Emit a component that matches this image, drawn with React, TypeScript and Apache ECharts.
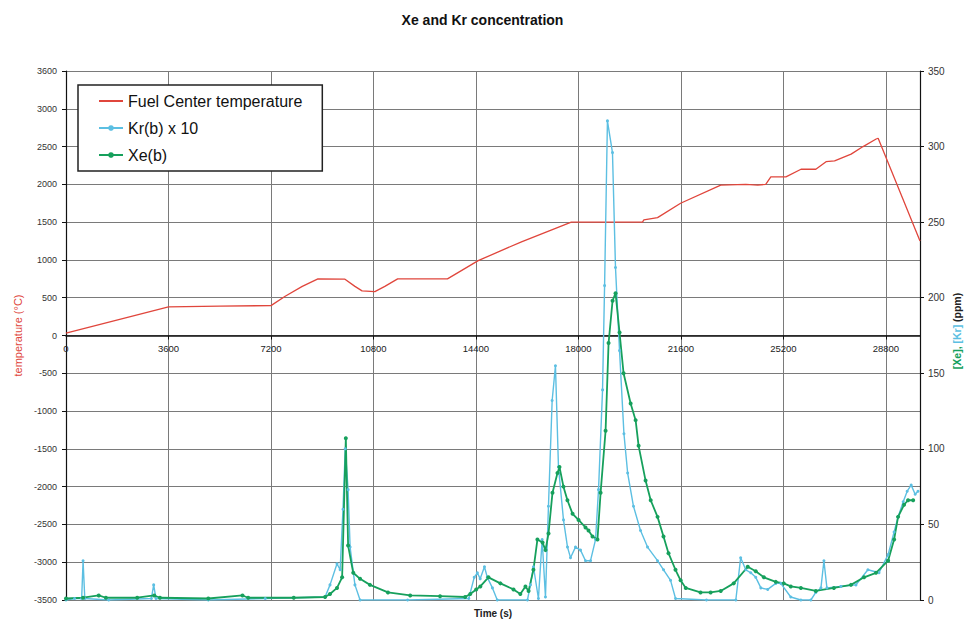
import React, { useEffect, useRef } from "react";
import * as echarts from "echarts";

const TITLE = "Xe and Kr concentration";
const X_NAME = "Time (s)";
const LEFT_NAME = "temperature (°C)";
const RIGHT_NAME = "{xe|[Xe],} {kr|[Kr]} {pp|(ppm)}";
const SERIES_NAMES = ["Fuel Center temperature", "Kr(b) x 10", "Xe(b)"];

const leftTickValues = [-3500, -3000, -2500, -2000, -1500, -1000, -500, 0, 500, 1000, 1500, 2000, 2500, 3000, 3500];
const leftTickLabels = ["-3500", "-3000", "-2500", "-2000", "-1500", "-1000", "-500", "0", "500", "1000", "1500", "2000", "2500", "3000", "3600"];

// Fuel center temperature [time s, °C]
const tempData: [number, number][] = [
  [0, 30], [3600, 380], [5400, 390], [7200, 395], [7700, 520], [8300, 650], [8850, 750],
  [9800, 745], [10150, 650], [10400, 590], [10850, 580], [11200, 650], [11650, 750],
  [13400, 750], [14480, 990], [14600, 1010], [16000, 1240], [17750, 1500], [20250, 1500],
  [20300, 1530], [20780, 1560], [21590, 1750], [23000, 1990], [23880, 2000], [24300, 1990],
  [24580, 2000], [24760, 2100], [25290, 2100], [25820, 2200], [26340, 2200], [26700, 2300],
  [27000, 2310], [27580, 2400], [28000, 2500], [28460, 2600], [28530, 2610], [30000, 1250],
];

// Kr(b) x 10 [time s, ppm]
const krData: [number, number][] = [
  [0, 0], [300, 1], [550, 1], [600, 26], [660, 1], [1500, 0], [3000, 1], [3080, 10], [3160, 1],
  [5000, 0], [7000, 1], [9100, 2], [9275, 10], [9520, 24], [9630, 20], [9730, 60], [9810, 100],
  [9910, 73], [9980, 35], [10150, 10], [10330, 0], [12000, 0], [14150, 1], [14340, 15],
  [14450, 18], [14550, 14], [14700, 22], [14800, 15], [14980, 8], [15150, 0], [16210, 0],
  [16315, 10], [16421, 22], [16596, 1], [16726, 40], [16843, 2], [16948, 62], [17078, 132],
  [17194, 155], [17300, 88], [17476, 53], [17617, 35], [17722, 28], [17898, 35], [18074, 33],
  [18250, 26], [18426, 26], [18602, 40], [18707, 73], [18848, 139], [18920, 208], [19020, 317],
  [19197, 296], [19303, 220], [19445, 165], [19600, 110], [19730, 84], [19935, 62], [20182, 46],
  [20428, 35], [20780, 26], [20991, 20], [21237, 13], [21413, 1], [22500, 0], [23530, 0],
  [23700, 28], [23880, 20], [24055, 18], [24230, 15], [24410, 8], [24650, 7], [24935, 11],
  [25110, 11], [25460, 2], [25815, 0], [26165, 0], [26340, 5], [26520, 8], [26625, 26],
  [26730, 8], [27220, 9], [27750, 10], [28170, 20], [28560, 18], [28880, 30], [29090, 45],
  [29230, 55], [29410, 65], [29550, 72], [29690, 76], [29830, 70], [29930, 72],
];

// Xe(b) [time s, ppm]
const xeData: [number, number][] = [
  [0, 1], [600, 1.5], [1150, 3], [1400, 1.5], [2500, 1.5], [3100, 3], [3300, 1.5], [5000, 1],
  [6200, 3], [6400, 1.5], [8000, 1.5], [9100, 2], [9275, 4], [9520, 8], [9700, 15], [9830, 107],
  [9910, 36], [10090, 18], [10330, 14], [10680, 10], [11310, 5], [12090, 3], [13140, 2.5],
  [14020, 2], [14200, 4], [14410, 7], [14555, 9], [14840, 15], [15260, 11], [15720, 7],
  [15960, 4], [16140, 9], [16250, 6], [16420, 20], [16560, 40], [16740, 38], [16845, 33],
  [16950, 44], [17090, 71], [17265, 84], [17335, 88], [17475, 75], [17615, 66], [17795, 57],
  [18005, 53], [18250, 48], [18355, 46], [18495, 42], [18670, 40], [18780, 71], [18955, 112],
  [19060, 170], [19200, 198], [19305, 203], [19445, 177], [19587, 150], [19835, 130],
  [20010, 119], [20115, 102], [20360, 79], [20540, 66], [20780, 55], [20990, 42], [21165, 31],
  [21410, 20], [21590, 13], [21770, 8], [22290, 5], [22645, 5], [23000, 6], [23455, 11],
  [23950, 22], [24230, 19], [24515, 15], [24935, 12], [25215, 11], [25460, 9], [25815, 8],
  [26340, 6], [26975, 8], [27575, 10], [28035, 15], [28455, 18], [28880, 26], [29090, 40],
  [29230, 55], [29440, 63], [29580, 66], [29760, 66],
];

const RED = "#e0463c";
const BLUE = "#5cbfe2";
const GREEN = "#16a05c";
const FONT = "'Liberation Sans', Arial, sans-serif";

const GRID_TOP = 71;
const GRID_BOTTOM = 23;
const CHART_H = 623;

export default function App() {
  const ref = useRef<HTMLDivElement>(null);
  useEffect(() => {
    if (!ref.current) return;
    const chart = echarts.init(ref.current, null, { renderer: "svg" });
    const plotH = CHART_H - GRID_TOP - GRID_BOTTOM;
    const leftMin = leftTickValues[0];
    const leftMax = leftTickValues[leftTickValues.length - 1];
    // distance from the grid bottom to the y=0 line
    const zeroOffset = (plotH * (0 - leftMin)) / (leftMax - leftMin);
    chart.setOption({
      animation: false,
      backgroundColor: "#fff",
      textStyle: { fontFamily: FONT },
      title: {
        text: TITLE,
        left: "center",
        top: 8,
        textStyle: { fontSize: 14, fontWeight: "bold", color: "#111", fontFamily: FONT },
      },
      legend: {
        data: [
          { name: SERIES_NAMES[0], itemStyle: { opacity: 0 } },
          { name: SERIES_NAMES[1] },
          { name: SERIES_NAMES[2] },
        ],
        orient: "vertical",
        left: 78,
        top: 85,
        backgroundColor: "#fff",
        borderColor: "#222",
        borderWidth: 1.5,
        borderRadius: 0,
        padding: [8, 20, 8, 20],
        itemGap: 11,
        itemWidth: 24,
        itemHeight: 7,
        textStyle: { fontSize: 16, color: "#111", fontFamily: FONT },
      },
      grid: {
        left: 66,
        right: 45,
        top: GRID_TOP,
        bottom: GRID_BOTTOM,
        containLabel: false,
        outerBoundsMode: "none",
      },
      xAxis: {
        type: "value",
        min: 0,
        max: 30000,
        interval: 3600,
        position: "bottom",
        offset: -zeroOffset,
        axisLine: { onZero: false, lineStyle: { color: "#111", width: 1.5 } },
        axisTick: { show: true, length: 4, lineStyle: { color: "#111" } },
        axisLabel: {
          fontSize: 9.5,
          color: "#222",
          margin: 8,
          showMaxLabel: false,
          formatter: (v: number) => String(v),
        },
        splitLine: { show: true, lineStyle: { color: "#7a7a7a", width: 1 } },
      },
      yAxis: [
        {
          type: "value",
          position: "left",
          min: leftMin,
          max: leftMax,
          interval: 500,
          name: LEFT_NAME,
          nameLocation: "middle",
          nameGap: 42,
          nameTextStyle: { color: RED, fontSize: 11, fontFamily: FONT },
          axisLine: { show: true, lineStyle: { color: "#111", width: 1.2 } },
          axisTick: { show: true, length: 4, lineStyle: { color: "#111" } },
          axisLabel: {
            fontSize: 9,
            color: "#333",
            margin: 9,
            formatter: (v: number) => {
              const i = leftTickValues.indexOf(v);
              return i >= 0 ? leftTickLabels[i] : "";
            },
          },
          splitLine: { show: true, lineStyle: { color: "#7a7a7a", width: 1.2 } },
        },
        {
          type: "value",
          position: "right",
          min: 0,
          max: 350,
          interval: 50,
          axisLine: { show: true, lineStyle: { color: "#111", width: 1.2 } },
          axisTick: { show: true, length: 4, lineStyle: { color: "#111" } },
          axisLabel: { fontSize: 10, color: "#333", margin: 8 },
          splitLine: { show: false },
        },
      ],
      graphic: [
        {
          type: "text",
          x: 493,
          y: 613,
          style: {
            text: X_NAME,
            fontSize: 10,
            fontWeight: "bold",
            fontFamily: FONT,
            fill: "#222",
            align: "center",
            verticalAlign: "middle",
          },
        },
        {
          type: "text",
          x: 957,
          y: 331,
          rotation: Math.PI / 2,
          style: {
            text: RIGHT_NAME,
            fontSize: 10.5,
            fontWeight: "bold",
            fontFamily: FONT,
            align: "center",
            verticalAlign: "middle",
            rich: {
              xe: { fill: GREEN, fontSize: 10.5, fontWeight: "bold", fontFamily: FONT },
              kr: { fill: BLUE, fontSize: 10.5, fontWeight: "bold", fontFamily: FONT },
              pp: { fill: "#222", fontSize: 10.5, fontWeight: "bold", fontFamily: FONT },
            },
          },
        },
      ],
      series: [
        {
          name: SERIES_NAMES[0],
          type: "line",
          yAxisIndex: 0,
          data: tempData,
          symbol: "none",
          lineStyle: { color: RED, width: 1.3 },
          itemStyle: { color: RED },
        },
        {
          name: SERIES_NAMES[1],
          type: "line",
          yAxisIndex: 1,
          data: krData,
          symbol: "circle",
          symbolSize: 3,
          lineStyle: { color: BLUE, width: 1.4 },
          itemStyle: { color: BLUE },
        },
        {
          name: SERIES_NAMES[2],
          type: "line",
          yAxisIndex: 1,
          data: xeData,
          symbol: "circle",
          symbolSize: 4,
          lineStyle: { color: GREEN, width: 1.8 },
          itemStyle: { color: GREEN },
        },
      ],
    });
    return () => chart.dispose();
  }, []);
  return <div ref={ref} style={{ width: 965, height: 623, position: "absolute", left: 0, top: 0 }} />;
}
